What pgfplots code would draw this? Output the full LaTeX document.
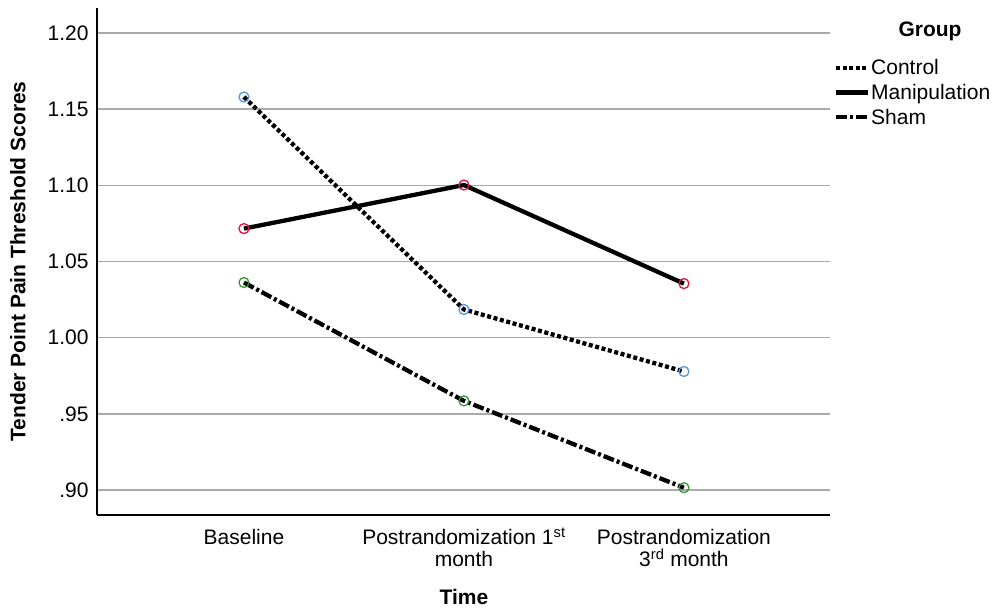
\documentclass[border=0pt]{standalone}
\usepackage{pgfplots}
\pgfplotsset{compat=1.18}
\usepackage{fontspec}
\setmainfont{Liberation Sans}
\definecolor{gridgray}{RGB}{170,170,170}
\definecolor{cblue}{RGB}{86,152,222}
\definecolor{cred}{RGB}{222,20,60}
\definecolor{cgreen}{RGB}{60,150,60}
\begin{document}
\begin{tikzpicture}[font=\fontsize{21}{22}\selectfont]
\begin{axis}[
  at={(0,0)}, anchor=south west,
  scale only axis, width=733pt, height=507pt,
  xmin=-0.668, xmax=2.664,
  ymin=0.8836, ymax=1.2164,
  axis x line=bottom, axis y line=left,
  axis line style={-, black, line width=1.3pt},
  xtick={0,1,2},
  xticklabels={{Baseline\vphantom{\textsuperscript{st}}}, {Postrandomization 1\textsuperscript{st}\\month}, {Postrandomization\vphantom{\textsuperscript{st}}\\3\textsuperscript{rd} month}},
  ytick={0.90,0.95,1.00,1.05,1.10,1.15,1.20},
  yticklabels={.90,.95,1.00,1.05,1.10,1.15,1.20},
  major tick length=0pt,
  tick label style={font=\fontsize{21}{22}\selectfont},
  xticklabel style={align=center, yshift=-9pt},
  yticklabel style={xshift=-5pt},
  ymajorgrids, grid style={gridgray, line width=1.6pt},
  xlabel={\textbf{Time}}, ylabel={\textbf{Tender Point Pain Threshold Scores}},
  label style={font=\fontsize{21}{22}\selectfont},
  xlabel style={at={(axis description cs:0.5007,-0.1617)}, anchor=center},
  ylabel style={at={(axis description cs:-0.1078,0.5)}, anchor=center},
  clip=false,
  legend style={draw=none, fill=none, at={(1.005,0.901)}, anchor=north west,
    font=\fontsize{21}{22}\selectfont, inner sep=0pt, row sep=6pt,
    nodes={inner sep=1pt}},
  legend cell align=left,
  legend image code/.code={\draw[#1] (0pt,0pt) -- (32pt,0pt);},
]
\addplot[black, line width=4.3pt, dash pattern=on 4pt off 2.6pt] coordinates {(0,1.158) (1,1.0185) (2,0.9778)};
\addlegendentry{Control}
\addplot[black, line width=4.3pt] coordinates {(0,1.0716) (1,1.1002) (2,1.0355)};
\addlegendentry{Manipulation}
\addplot[black, line width=4.3pt, dash pattern=on 11pt off 3pt on 3pt off 3pt] coordinates {(0,1.0362) (1,0.9585) (2,0.9015)};
\addlegendentry{Sham}
\addplot[only marks, mark=o, mark size=5pt, mark options={draw=cblue, line width=1.3pt}, forget plot] coordinates {(0,1.158) (1,1.0185) (2,0.9778)};
\addplot[only marks, mark=o, mark size=5pt, mark options={draw=cred, line width=1.3pt}, forget plot] coordinates {(0,1.0716) (1,1.1002) (2,1.0355)};
\addplot[only marks, mark=o, mark size=5pt, mark options={draw=cgreen, line width=1.3pt}, forget plot] coordinates {(0,1.0362) (1,0.9585) (2,0.9015)};
\end{axis}
\node[font=\fontsize{21}{22}\selectfont\bfseries] at (833pt,484pt) {Group};
\pgfresetboundingbox
\path[use as bounding box] (-97pt,-95pt) rectangle (895pt,515pt);
\end{tikzpicture}
\end{document}
